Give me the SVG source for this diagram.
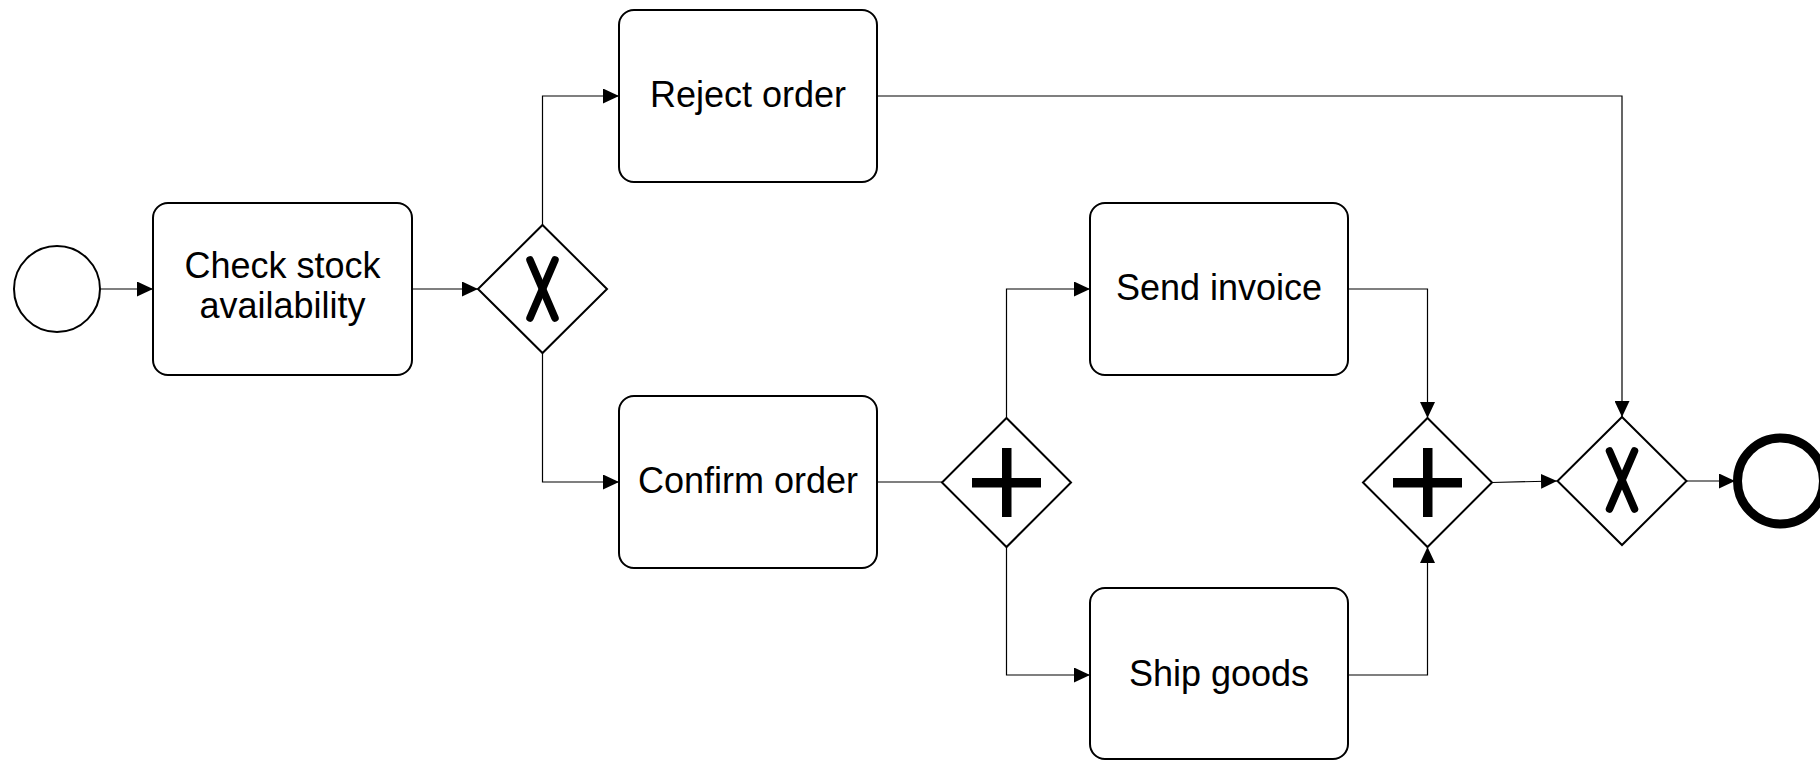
<svg xmlns="http://www.w3.org/2000/svg" width="1820" height="760" viewBox="0 0 1820 760">
  <defs>
    <style>
      .task { fill: #ffffff; stroke: #000000; stroke-width: 2; }
      .gw { fill: #ffffff; stroke: #000000; stroke-width: 2; }
      .label { font-family: "Liberation Sans", Arial, sans-serif; font-size: 36px; fill: #000000; text-anchor: middle; }
      .flow { fill: none; stroke: #000000; stroke-width: 1.2; }
      .xmark { stroke: #000000; stroke-width: 7.5; stroke-linecap: round; fill: none; }
      .plus { fill: #000000; }
    </style>
    <marker id="arrow" markerUnits="userSpaceOnUse" markerWidth="17" markerHeight="15" refX="16" refY="7.5" orient="auto">
      <path d="M0,0 L16,7.5 L0,15 z" fill="#000000"/>
    </marker>
  </defs>

  <rect width="1820" height="760" fill="#ffffff"/>

  <!-- sequence flows -->
  <g id="connectors">
    <path class="flow" d="M100,289 L153,289" marker-end="url(#arrow)"/>
    <path class="flow" d="M412,289 L478,289" marker-end="url(#arrow)"/>
    <path class="flow" d="M542.5,225 L542.5,96 L619,96" marker-end="url(#arrow)"/>
    <path class="flow" d="M542.5,353 L542.5,482 L619,482" marker-end="url(#arrow)"/>
    <path class="flow" d="M877,96 L1622,96 L1622,417" marker-end="url(#arrow)"/>
    <path class="flow" d="M877,482 L942,482"/>
    <path class="flow" d="M1006.5,418 L1006.5,289 L1090,289" marker-end="url(#arrow)"/>
    <path class="flow" d="M1006.5,547 L1006.5,675 L1090,675" marker-end="url(#arrow)"/>
    <path class="flow" d="M1348,289 L1427.5,289 L1427.5,418" marker-end="url(#arrow)"/>
    <path class="flow" d="M1348,675 L1427.5,675 L1427.5,547" marker-end="url(#arrow)"/>
    <path class="flow" d="M1492,482.5 L1557,481" marker-end="url(#arrow)"/>
    <path class="flow" d="M1686,481 L1735,481" marker-end="url(#arrow)"/>
  </g>

  <!-- start event -->
  <g id="start">
    <circle cx="57" cy="289" r="43" fill="#ffffff" stroke="#000000" stroke-width="2"/>
  </g>

  <!-- tasks -->
  <g id="check-stock">
    <rect class="task" x="153" y="203" width="259" height="172" rx="15" ry="15"/>
    <text class="label" x="282.5" y="278">Check stock</text>
    <text class="label" x="282.5" y="318">availability</text>
  </g>

  <g id="reject-order">
    <rect class="task" x="619" y="10" width="258" height="172" rx="15" ry="15"/>
    <text class="label" x="748" y="107">Reject order</text>
  </g>

  <g id="confirm-order">
    <rect class="task" x="619" y="396" width="258" height="172" rx="15" ry="15"/>
    <text class="label" x="748" y="493">Confirm order</text>
  </g>

  <g id="send-invoice">
    <rect class="task" x="1090" y="203" width="258" height="172" rx="15" ry="15"/>
    <text class="label" x="1219" y="300">Send invoice</text>
  </g>

  <g id="ship-goods">
    <rect class="task" x="1090" y="588" width="258" height="171" rx="15" ry="15"/>
    <text class="label" x="1219" y="686">Ship goods</text>
  </g>

  <!-- exclusive split -->
  <g id="gateway-stock">
    <path class="gw" d="M542.5,225 L607,289 L542.5,353 L478,289 z"/>
    <line class="xmark" x1="530" y1="260" x2="555" y2="318"/>
    <line class="xmark" x1="555" y1="260" x2="530" y2="318"/>
  </g>

  <!-- parallel split -->
  <g id="gateway-fork">
    <path class="gw" d="M1006.5,418 L1071,482.5 L1006.5,547 L942,482.5 z"/>
    <rect class="plus" x="972" y="478" width="69" height="9.5"/>
    <rect class="plus" x="1002" y="448" width="9.5" height="69"/>
  </g>

  <!-- parallel join -->
  <g id="gateway-join">
    <path class="gw" d="M1427.5,418 L1492,482.5 L1427.5,547 L1363,482.5 z"/>
    <rect class="plus" x="1393" y="478" width="69" height="9.5"/>
    <rect class="plus" x="1423" y="448" width="9.5" height="69"/>
  </g>

  <!-- exclusive merge -->
  <g id="gateway-merge">
    <path class="gw" d="M1622,417 L1686.5,481 L1622,545 L1557.5,481 z"/>
    <line class="xmark" x1="1609.5" y1="451" x2="1634.5" y2="509"/>
    <line class="xmark" x1="1634.5" y1="451" x2="1609.5" y2="509"/>
  </g>

  <!-- end event -->
  <g id="end">
    <circle cx="1780.5" cy="481" r="43" fill="#ffffff" stroke="#000000" stroke-width="9"/>
  </g>
</svg>
